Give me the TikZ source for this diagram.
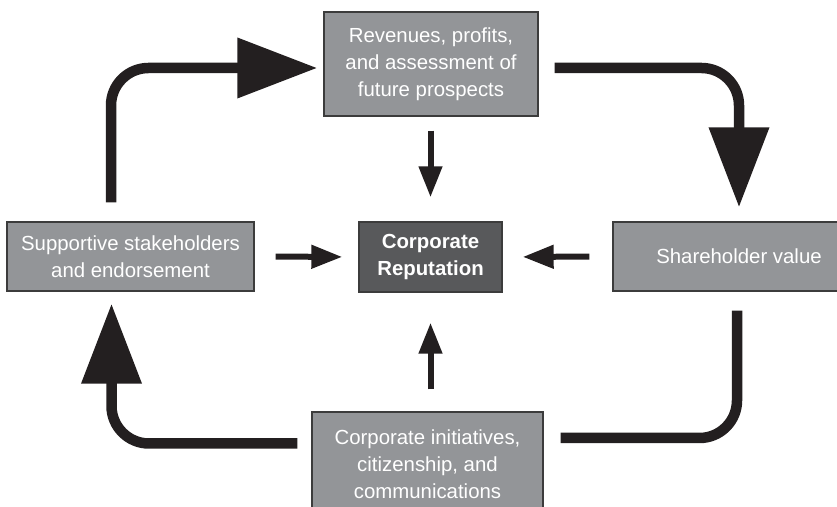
\documentclass[tikz,border=0pt]{standalone}
\usepackage{fontspec}
\setmainfont{Liberation Sans}
\usepackage{tikz}
\usetikzlibrary{arrows.meta, positioning, calc}
\definecolor{grisCaja}{RGB}{147, 149, 152}
\definecolor{grisOscuro}{RGB}{88, 89, 91}
\definecolor{bordeCaja}{RGB}{60, 60, 60}
\definecolor{negroFlecha}{RGB}{35, 31, 32}

\begin{document}
\begin{tikzpicture}[
        caja/.style={rectangle, draw=bordeCaja, line width=0.8pt, fill=grisCaja, text=white, align=center, inner sep=0pt,
            font=\fontsize{11.6}{15.3}\selectfont},
        ciclo/.style={draw=negroFlecha, line width=0.21cm, rounded corners=0.75cm},
        punta/.style={-{Triangle[length=1.6cm, width=1.16cm]}},
        flecha/.style={draw=negroFlecha, line width=0.12cm, -{Triangle[length=0.62cm, width=0.45cm]}}]
    \useasboundingbox (0,0) rectangle (16.74,10.14);
    \clip (0,0) rectangle (16.74,10.14);
    % cajas
    \node[caja, minimum width=4.28cm, minimum height=2.08cm] (rev) at (8.62,8.86) {Revenues, profits,\\and assessment of\\future prospects};
    \node[caja, fill=grisOscuro, minimum width=2.86cm, minimum height=1.40cm, font=\fontsize{11.6}{15.3}\selectfont\bfseries] (rep) at (8.61,5.0) {Corporate\\Reputation};
    \node[caja, minimum width=5.04cm, minimum height=1.38cm] (sh) at (14.78,5.01) {Shareholder value};
    \node[caja, minimum width=4.94cm, minimum height=1.38cm] (sup) at (2.61,5.01) {Supportive stakeholders\\and endorsement};
    \node[caja, minimum width=4.62cm, minimum height=2.08cm] (ini) at (8.55,0.86) {Corporate initiatives,\\citizenship, and\\communications};
    % ciclo exterior
    \draw[ciclo, punta, shorten <=0.38cm, shorten >=0.12cm] ([xshift=-0.39cm]sup.north) |- ([yshift=-0.08cm]rev.west);
    \draw[ciclo, punta, shorten <=0.32cm, shorten >=0.28cm] ([yshift=-0.08cm]rev.east) -| (sh.north);
    \draw[ciclo, shorten <=0.38cm, shorten >=0.34cm] ([xshift=-0.04cm]sh.south) |- ([yshift=0.52cm]ini.east);
    \draw[ciclo, punta, shorten <=0.28cm, shorten >=0.24cm] ([yshift=0.41cm]ini.west) -| ([xshift=-0.38cm]sup.south);
    % flechas hacia la reputacion
    \draw[flecha, shorten <=0.28cm, shorten >=0.48cm] (rev.south -| rep) -- (rep.north);
    \draw[flecha, shorten <=0.42cm, shorten >=0.32cm] (sup.east) -- (rep.west);
    \draw[flecha, shorten <=0.46cm, shorten >=0.40cm] (sh.west) -- (rep.east);
    \draw[flecha, shorten <=0.44cm, shorten >=0.60cm] (ini.north -| rep) -- (rep.south);
\end{tikzpicture}
\end{document}
